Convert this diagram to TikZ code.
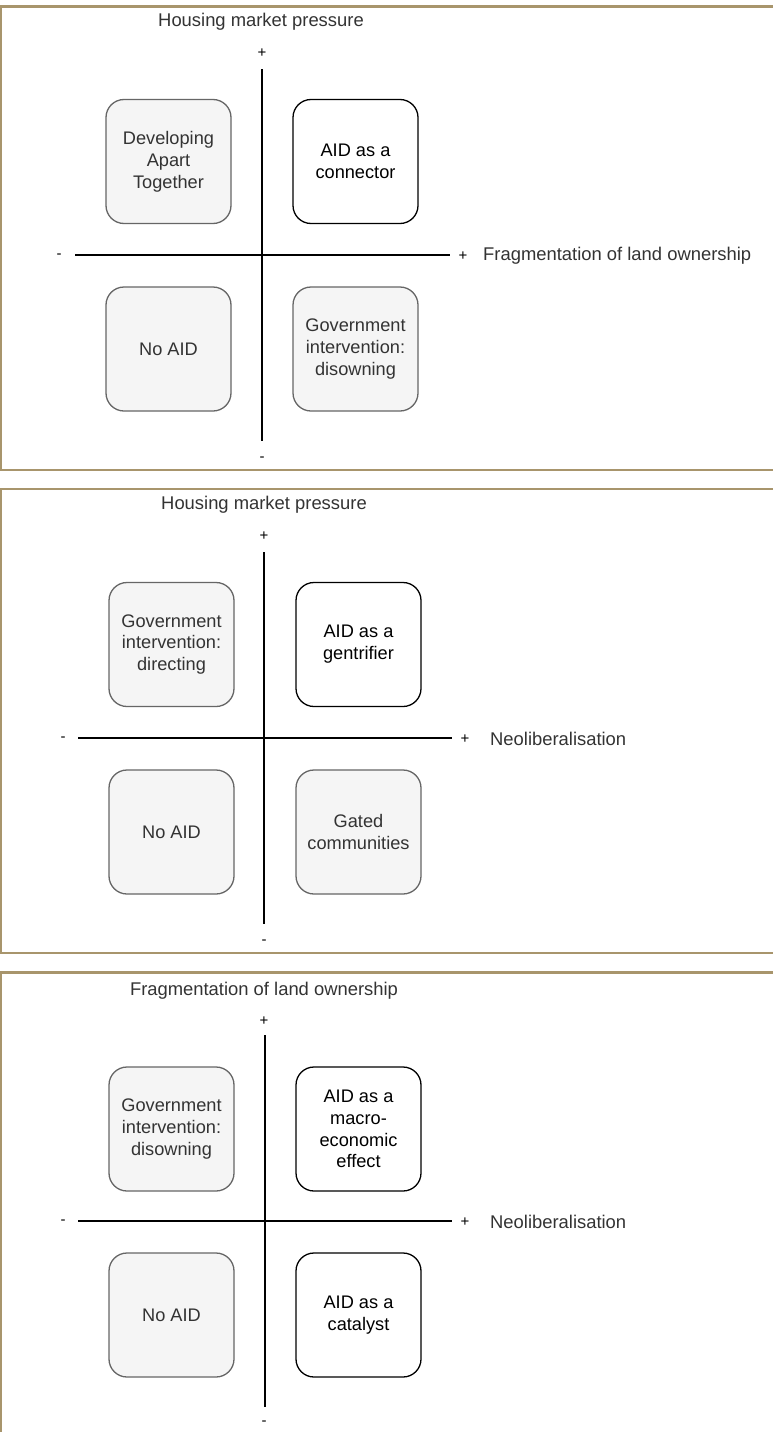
\documentclass[tikz,border=0pt]{standalone}
\usepackage{fontspec}
\setmainfont{Liberation Sans}
\definecolor{frame}{RGB}{168,149,108}
\definecolor{greyfill}{HTML}{F5F5F5}
\definecolor{greyline}{HTML}{666666}
\definecolor{greytext}{HTML}{333333}
\tikzset{
  quadbox/.style={rounded corners=18pt, minimum width=125pt, minimum height=124pt,
    align=center, inner sep=2pt, line width=1.3pt,
    font=\fontsize{18.2}{21.8}\selectfont},
  greybox/.style={quadbox, draw=greyline, fill=greyfill, text=greytext},
  whitebox/.style={quadbox, draw=black, fill=white, text=black},
  axis/.style={line width=1.5pt, black},
  sign/.style={font=\fontsize{15}{15}\selectfont, text=black, inner sep=0pt},
  lbl/.style={font=\fontsize{18.4}{22}\selectfont, text=greytext, inner sep=0pt},
  framebar/.style={draw=frame, line width=2.5pt, line cap=butt}
}
\begin{document}
\begin{tikzpicture}[x=1pt,y=-1pt]
\useasboundingbox (0,0) rectangle (772,1432);
\fill[white] (0,0) rectangle (772,1432);

% ---------------- Panel 1 ----------------
\draw[framebar] (773,6.5) -- (1.2,6.5) -- (1.2,470) -- (773,470);
\node[lbl] (p1title) at (261,22) {Housing market pressure};
\node[sign] (p1plus) at (262,53) {+};
\node[sign] (p1minus) at (262,459) {-};
\node[sign] (p1left) at (59,256) {-};
\node[sign] (p1right) at (463,256) {+};
\node[lbl, anchor=west] (p1xl) at (483,256) {Fragmentation of land ownership};
\coordinate (p1t) at (262,69);
\coordinate (p1b) at (262,441);
\coordinate (p1l) at (75,255);
\coordinate (p1r) at (450,255);
\draw[axis] (p1t) -- (p1b);
\draw[axis] (p1l) -- (p1r);
\node[greybox] (p1ul) at (168.5,161.5) {Developing\\Apart\\Together};
\node[whitebox] (p1ur) at (355.5,161.5) {AID as a\\connector};
\node[greybox] (p1ll) at (168.5,349) {No AID};
\node[greybox] (p1lr) at (355.5,349) {Government\\intervention:\\disowning};

% ---------------- Panel 2 ----------------
\draw[framebar] (773,489) -- (1.2,489) -- (1.2,953) -- (773,953);
\begin{scope}[shift={(3,483)}]
\node[lbl] (p2title) at (261,22) {Housing market pressure};
\node[sign] (p2plus) at (261,53) {+};
\node[sign] (p2minus) at (261,459) {-};
\node[sign] (p2left) at (60,256) {-};
\node[sign] (p2right) at (462,256) {+};
\node[lbl, anchor=west] (p2xl) at (487,256) {Neoliberalisation};
\coordinate (p2t) at (261,69);
\coordinate (p2b) at (261,441);
\coordinate (p2l) at (75,255);
\coordinate (p2r) at (449,255);
\draw[axis] (p2t) -- (p2b);
\draw[axis] (p2l) -- (p2r);
\node[greybox] (p2ul) at (168.5,161.5) {Government\\intervention:\\directing};
\node[whitebox] (p2ur) at (355.5,161.5) {AID as a\\gentrifier};
\node[greybox] (p2ll) at (168.5,349) {No AID};
\node[greybox] (p2lr) at (355.5,349) {Gated\\communities};
\end{scope}

% ---------------- Panel 3 ----------------
\draw[framebar] (773,972.5) -- (1.2,972.5) -- (1.2,1440);
\begin{scope}[shift={(3,966)}]
\node[lbl] (p3title) at (261,25) {Fragmentation of land ownership};
\node[sign] (p3plus) at (261,55) {+};
\node[sign] (p3minus) at (261,457) {-};
\node[sign] (p3left) at (60,256) {-};
\node[sign] (p3right) at (462,256) {+};
\node[lbl, anchor=west] (p3xl) at (487,256) {Neoliberalisation};
\coordinate (p3t) at (262,69);
\coordinate (p3b) at (262,441);
\coordinate (p3l) at (75,255);
\coordinate (p3r) at (449,255);
\draw[axis] (p3t) -- (p3b);
\draw[axis] (p3l) -- (p3r);
\node[greybox] (p3ul) at (168.5,163) {Government\\intervention:\\disowning};
\node[whitebox] (p3ur) at (355.5,163) {AID as a\\macro-\\economic\\effect};
\node[greybox] (p3ll) at (168.5,349) {No AID};
\node[whitebox] (p3lr) at (355.5,349) {AID as a\\catalyst};
\end{scope}
\end{tikzpicture}
\end{document}
